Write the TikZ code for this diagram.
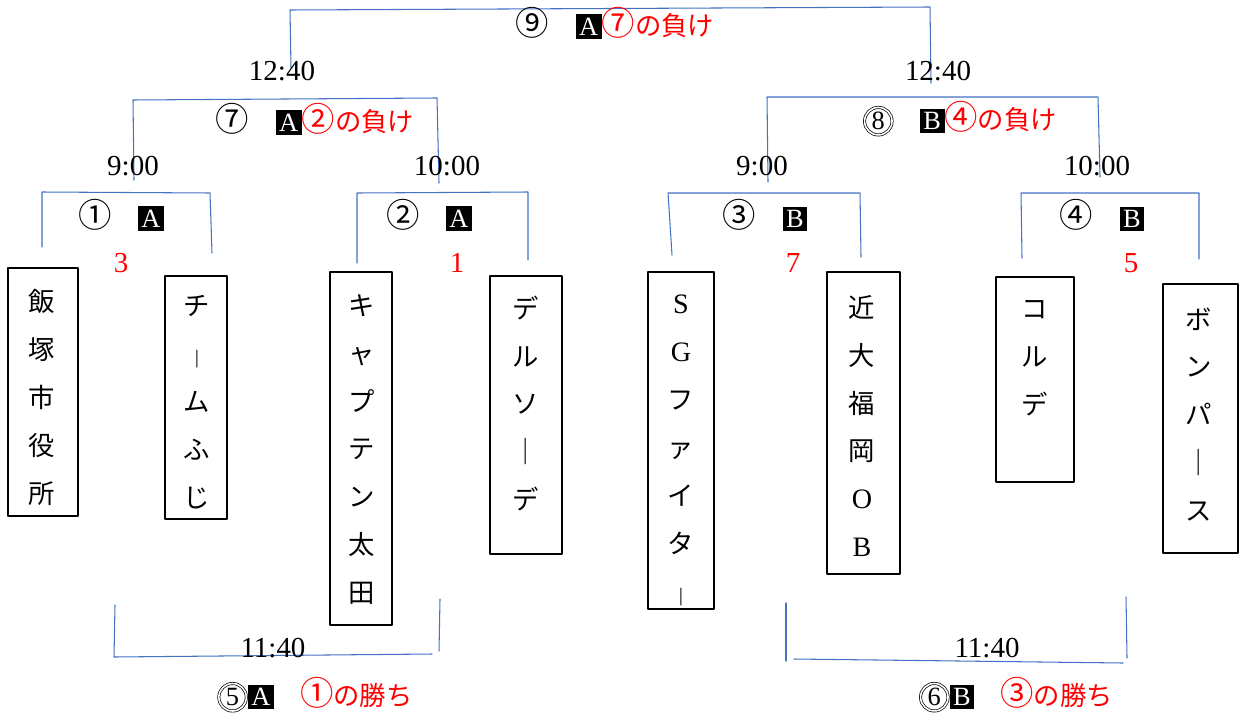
\documentclass[tikz,border=0pt]{standalone}
\usepackage{fontspec}
\setmainfont{Liberation Serif}
\newfontfamily\jp{Noto Sans CJK JP}
\definecolor{lineblue}{RGB}{68,114,196}
% black square letter, circled number, double circle, Latin letter in a name, red text
\newcommand\blk[1]{{\setlength\fboxsep{2pt}\colorbox{black}{\textcolor{white}{\rmfamily\fontsize{15}{15}\selectfont #1}}}}
\newcommand\cn[1]{{\fontsize{19}{18}\selectfont #1}}
\newcommand\dcirc[1]{\tikz[x=1cm, y=1cm, baseline=(d.base)] \node[circle, draw, line width=0.4pt, double, double distance=0.9pt, minimum size=0.55cm, inner sep=0pt, font=\rmfamily\fontsize{15}{15}\selectfont] (d) {#1};}
\newcommand\lat[1]{{\rmfamily\fontsize{16}{27.3}\selectfont #1}}
\newcommand\rd[1]{\textcolor{red}{#1}}
\tikzset{
  bracket/.style={draw=lineblue, line width=0.6pt},
  teambox/.style={draw, line width=0.7pt, inner sep=0pt},
  vname/.style={align=center, inner sep=0pt, font=\jp\fontsize{15}{27.3}\selectfont},
  clock/.style={inner sep=0pt, font=\fontsize{16.5}{18}\selectfont},
  score/.style={inner sep=0pt, text=red, font=\fontsize{16.5}{18}\selectfont},
  game/.style={inner sep=0pt, font=\jp\fontsize{15}{18}\selectfont}
}
\begin{document}
\begin{tikzpicture}[x=0.02cm, y=-0.02cm, line join=round, line cap=round]
\useasboundingbox (0,0) rectangle (1239,713);
% brackets
\draw[bracket] (291,68)--(290,10)--(930,7)--(931,83);
\draw[bracket] (134,180)--(133,100)--(437,98)--(439,183);
\draw[bracket] (768,182)--(767,97)--(1098,97)--(1100,177);
\draw[bracket] (42,247)--(42,192)--(210,193)--(212,253);
\draw[bracket] (357,263)--(357,193)--(528,192)--(528,260);
\draw[bracket] (672,255)--(668,193)--(860,193)--(861,257);
\draw[bracket] (1022,258)--(1021,193)--(1199,193)--(1199,259);
\draw[bracket] (115,605)--(114,657)--(432,654);
\draw[bracket] (440,599)--(439,651);
\draw[bracket] (786,603)--(786,661);
\draw[bracket] (794,659)--(1123,663);
\draw[bracket] (1126,597)--(1127,658);
% times
\node[clock] (c9l) at (282,71) {12:40};
\node[clock] (c9r) at (938,71) {12:40};
\node[clock] (c7l) at (133,166) {9:00};
\node[clock] (c7r) at (447,166) {10:00};
\node[clock] (c8l) at (762,166) {9:00};
\node[clock] (c8r) at (1097,166) {10:00};
\node[clock] (c5) at (273,648) {11:40};
\node[clock] (c6) at (987,648) {11:40};
% games
\node[game] (g9) at (615,23) {\cn{⑨}　\blk{A}\rd{\cn{⑦}の負け}};
\node[game] (g7) at (315,119) {\cn{⑦}　\blk{A}\rd{\cn{②}の負け}};
\node[game] (g8) at (960,119) {\dcirc{8}　\blk{B}\rd{\cn{④}の負け}};
\node[game] (g1) at (121,215) {\cn{①}　\blk{A}};
\node[game] (g2) at (429,215) {\cn{②}　\blk{A}};
\node[game] (g3) at (765,215) {\cn{③}　\blk{B}};
\node[game] (g4) at (1102,215) {\cn{④}　\blk{B}};
\node[game] (g5) at (315,695) {\dcirc{5}\blk{A}　\rd{\cn{①}の勝ち}};
\node[game] (g6) at (1016,695) {\dcirc{6}\blk{B}　\rd{\cn{③}の勝ち}};
% scores
\node[score] (s1) at (121,263) {3};
\node[score] (s2) at (457,263) {1};
\node[score] (s3) at (793,263) {7};
\node[score] (s4) at (1131,263) {5};
% teams
\node[teambox, minimum width=1.4cm, minimum height=4.96cm] (t1) at (43,392) {};
\node[vname] (n1) at (42,397.5) {飯\\塚\\市\\役\\所};
\node[teambox, minimum width=1.24cm, minimum height=4.86cm] (t2) at (196,397.5) {};
\node[vname] (n2) at (197,402.5) {チ\\{\fontsize{9}{9}\selectfont |}\\ム\\ふ\\じ};
\node[teambox, minimum width=1.24cm, minimum height=7.06cm] (t3) at (361,448.5) {};
\node[vname] (n3) at (362,449.5) {キ\\ャ\\プ\\テ\\ン\\太\\田};
\node[teambox, minimum width=1.44cm, minimum height=5.56cm] (t4) at (526,415) {};
\node[vname] (n4) at (526,403.5) {デ\\ル\\ソ\\｜\\デ};
\node[teambox, minimum width=1.32cm, minimum height=6.74cm] (t5) at (681,440.5) {};
\node[vname] (n5) at (681,450.5) {\lat{S}\\\lat{G}\\フ\\ァ\\イ\\タ\\{\fontsize{9}{9}\selectfont |}};
\node[teambox, minimum width=1.46cm, minimum height=6.04cm] (t6) at (863.5,423) {};
\node[vname] (n6) at (862,426) {近\\大\\福\\岡\\\lat{O}\\\lat{B}};
\node[teambox, minimum width=1.56cm, minimum height=4.1cm] (t7) at (1035,379.5) {};
\node[vname] (n7) at (1035,358.5) {コ\\ル\\デ};
\node[teambox, minimum width=1.5cm, minimum height=5.38cm] (t8) at (1200.5,418.5) {};
\node[vname] (n8) at (1199,414.5) {ボ\\ン\\パ\\｜\\ス};
\end{tikzpicture}
\end{document}
